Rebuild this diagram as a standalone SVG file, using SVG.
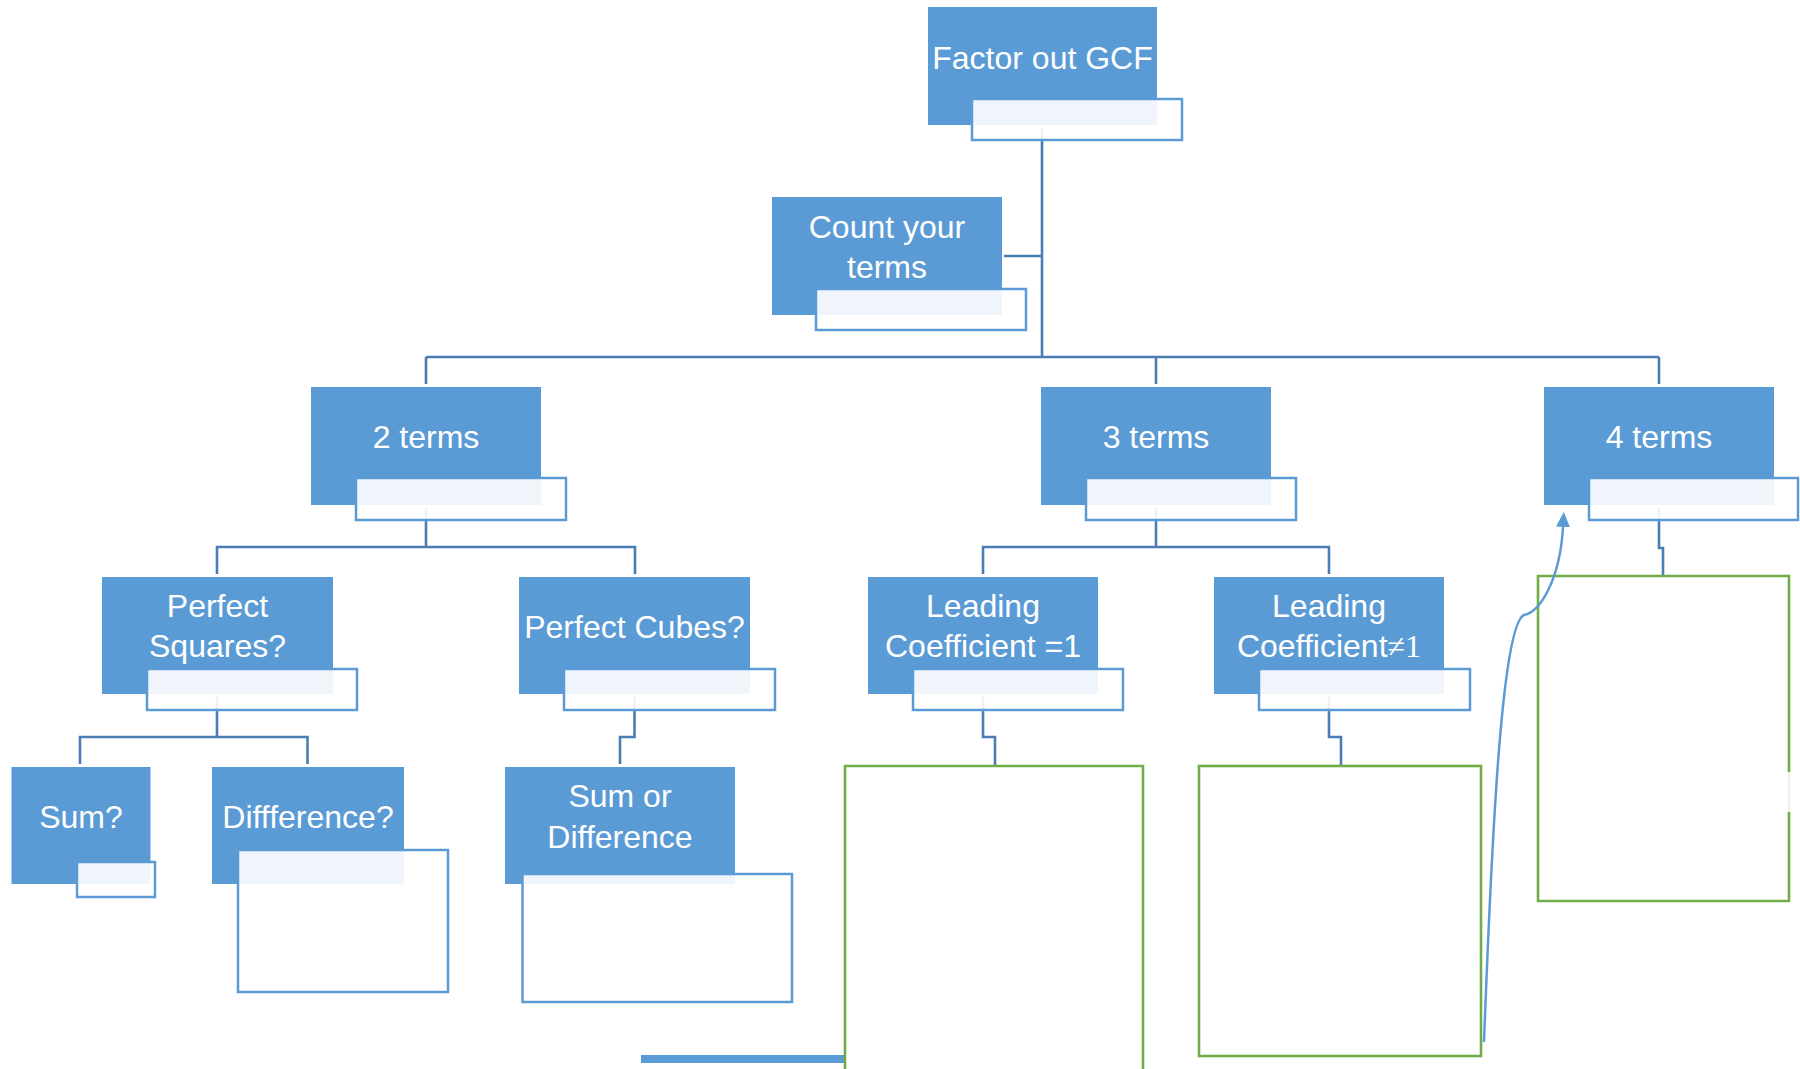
<svg xmlns="http://www.w3.org/2000/svg" width="1800" height="1069" viewBox="0 0 1800 1069">
  <style>
    .box { fill: #5b9bd5; }
    .tb { fill: #ffffff; fill-opacity: 0.9; stroke: #5b9bd5; stroke-width: 2.5; }
    .lbl { font-family: "Liberation Sans", Arial, sans-serif; font-size: 32px; fill: #ffffff; text-anchor: middle; }
    .conn { fill: none; stroke: #4a7db3; stroke-width: 2.6; }
    .green { fill: none; stroke: #70ad47; stroke-width: 2.6; }
    .curve { fill: none; stroke: #5b9bd5; stroke-width: 2.5; }
  </style>
  <defs>
    <marker id="arrow" viewBox="0 0 15 14" refX="0" refY="7" markerWidth="15" markerHeight="14" markerUnits="userSpaceOnUse" orient="auto">
      <path d="M0,0 L15,7 L0,14 z" fill="#5b9bd5"/>
    </marker>
  </defs>
  <rect x="0" y="0" width="1800" height="1069" fill="#ffffff"/>

  <g id="connectors">
    <path class="conn" d="M1042,128 V357"/>
    <path class="conn" d="M1004,256 H1042"/>
    <path class="conn" d="M426,357 H1659"/>
    <path class="conn" d="M426,357 V384"/>
    <path class="conn" d="M1156,357 V384"/>
    <path class="conn" d="M1659,357 V384"/>
    <path class="conn" d="M426,508 V547 M217,574 V547 H635 V574"/>
    <path class="conn" d="M1156,508 V547 M983,574 V547 H1329 V574"/>
    <path class="conn" d="M1659,508 V548 H1663 V576"/>
    <path class="conn" d="M217,697 V737 M80,764 V737 H307.5 V764"/>
    <path class="conn" d="M634.5,697 V737 H620 V764"/>
    <path class="conn" d="M983,697 V737 H995 V765"/>
    <path class="conn" d="M1329,697 V737 H1341 V765"/>
  </g>

  <rect id="bottom-bar" x="641" y="1055" width="204" height="8" fill="#5b9bd5"/>

  <g id="node-gcf">
    <rect class="box" x="928" y="7" width="229" height="118"/>
    <rect class="tb" x="972" y="99" width="210" height="41"/>
    <text class="lbl" x="1042.5" y="69">Factor out GCF</text>
  </g>
  <g id="node-count">
    <rect class="box" x="772" y="197" width="230" height="118"/>
    <rect class="tb" x="816" y="289" width="210" height="41"/>
    <text class="lbl" x="887" y="238">Count your</text>
    <text class="lbl" x="887" y="278">terms</text>
  </g>
  <g id="node-2terms">
    <rect class="box" x="311" y="387" width="230" height="118"/>
    <rect class="tb" x="356" y="478" width="210" height="42"/>
    <text class="lbl" x="426" y="448">2 terms</text>
  </g>
  <g id="node-3terms">
    <rect class="box" x="1041" y="387" width="230" height="118"/>
    <rect class="tb" x="1086" y="478" width="210" height="42"/>
    <text class="lbl" x="1156" y="448">3 terms</text>
  </g>
  <g id="node-4terms">
    <rect class="box" x="1544" y="387" width="230" height="118"/>
    <rect class="tb" x="1589" y="478" width="209" height="42"/>
    <text class="lbl" x="1659" y="448">4 terms</text>
  </g>
  <g id="node-squares">
    <rect class="box" x="102" y="577" width="231" height="117"/>
    <rect class="tb" x="147" y="669" width="210" height="41"/>
    <text class="lbl" x="217.5" y="617">Perfect</text>
    <text class="lbl" x="217.5" y="657">Squares?</text>
  </g>
  <g id="node-cubes">
    <rect class="box" x="519" y="577" width="231" height="117"/>
    <rect class="tb" x="564" y="669" width="211" height="41"/>
    <text class="lbl" x="634.5" y="638">Perfect Cubes?</text>
  </g>
  <g id="node-lead1">
    <rect class="box" x="868" y="577" width="230" height="117"/>
    <rect class="tb" x="913" y="669" width="210" height="41"/>
    <text class="lbl" x="983" y="617">Leading</text>
    <text class="lbl" x="983" y="657">Coefficient =1</text>
  </g>
  <g id="node-leadnot1">
    <rect class="box" x="1214" y="577" width="230" height="117"/>
    <rect class="tb" x="1259" y="669" width="211" height="41"/>
    <text class="lbl" x="1329" y="617">Leading</text>
    <text class="lbl" x="1329" y="657">Coefficient<tspan font-family="'Liberation Serif', 'Times New Roman', serif">≠1</tspan></text>
  </g>
  <g id="node-sum">
    <rect class="box" x="11.5" y="767" width="139" height="117"/>
    <rect class="tb" x="77" y="862" width="78" height="35"/>
    <text class="lbl" x="81" y="828">Sum?</text>
  </g>
  <g id="node-diff">
    <rect class="box" x="212" y="767" width="192" height="117"/>
    <rect class="tb" x="238" y="850" width="210" height="142"/>
    <text class="lbl" x="308" y="828">Diffference?</text>
  </g>
  <g id="node-sumordiff">
    <rect class="box" x="505" y="767" width="230" height="117"/>
    <rect class="tb" x="522.5" y="874" width="269.5" height="128"/>
    <text class="lbl" x="620" y="807">Sum or</text>
    <text class="lbl" x="620" y="848">Difference</text>
  </g>

  <g id="node-green1">
    <path class="green" d="M845,1075 V766 H1143 V1075"/>
  </g>
  <g id="node-green2">
    <rect class="green" x="1199" y="766" width="282" height="290"/>
  </g>
  <g id="node-green3">
    <path class="green" d="M1789,772 V576 H1538 V901 H1789 V812"/>
    <path d="M1789,772 V812" stroke="#eef4ea" stroke-width="2.6"/>
  </g>

  <g id="curved-arrow">
    <path class="curve" d="M1484,1042 C1492,830 1502,625 1524,615 C1540,612 1560,580 1563,527" marker-end="url(#arrow)"/>
  </g>
</svg>
